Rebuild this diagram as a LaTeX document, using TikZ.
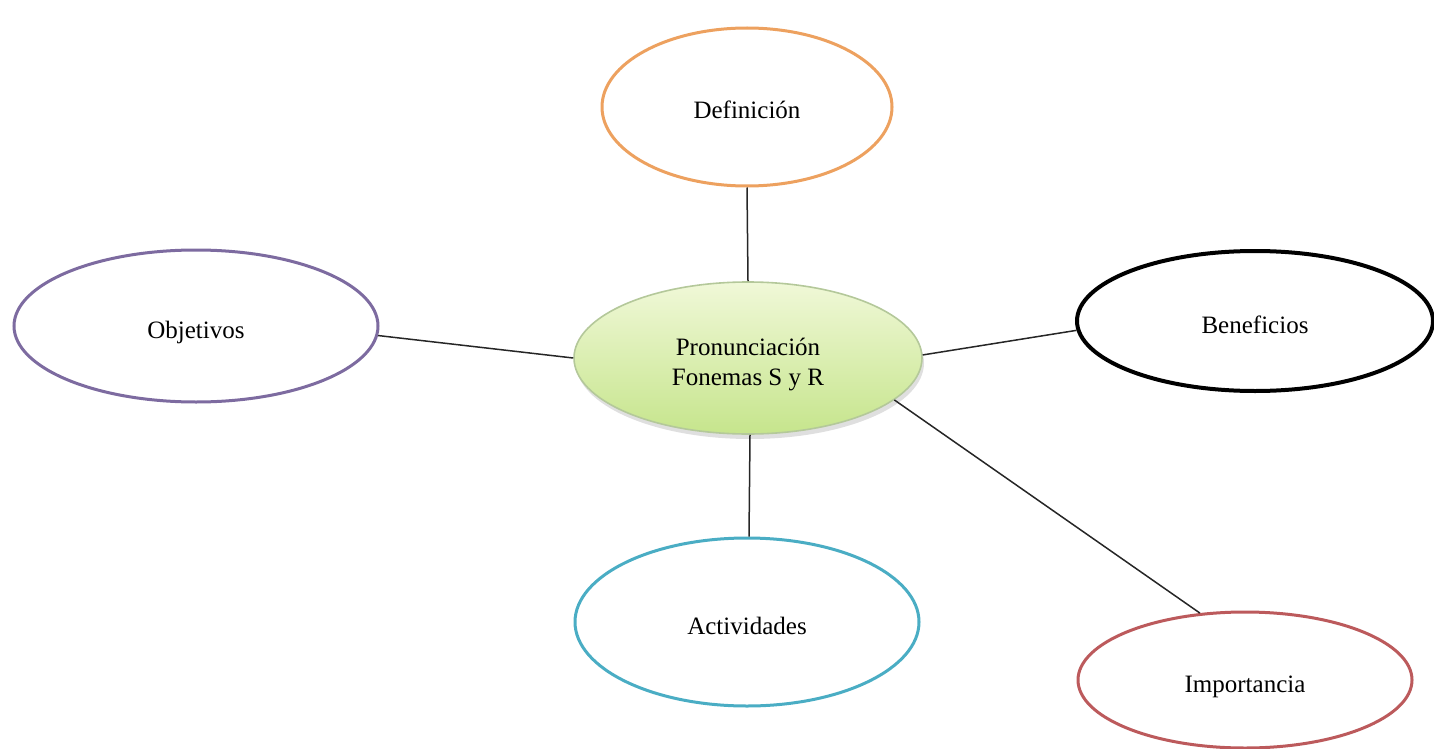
\documentclass[tikz,border=0pt]{standalone}
\usepackage{fontspec}
\setmainfont{Liberation Serif}
\usetikzlibrary{shapes.geometric,shadows}
\definecolor{orangeline}{HTML}{EDA15F}
\definecolor{purpleline}{HTML}{7D6BA0}
\definecolor{tealline}{HTML}{4AADC4}
\definecolor{redline}{HTML}{BC5A5C}
\definecolor{greentop}{HTML}{F0F8D8}
\definecolor{greenbot}{HTML}{C6E58C}
\definecolor{greenline}{HTML}{B4C89A}

\tikzset{
  topic/.style={ellipse, draw, line width=1.5pt, fill=white, align=center,
    font=\fontsize{12.5}{15}\selectfont, inner sep=0pt, text height=13pt, text depth=1pt},
  hub/.style={ellipse, draw=greenline, line width=0.8pt, top color=greentop,
    bottom color=greenbot, align=center, font=\fontsize{12.5}{15}\selectfont,
    inner sep=0pt, text height=28pt, text depth=1pt,
    drop shadow={opacity=0.25, shadow xshift=1pt, shadow yshift=-2.5pt}},
  link/.style={line width=0.75pt, draw=black!85}
}

\begin{document}
\begin{tikzpicture}[x=0.5pt, y=-0.5pt]
  \useasboundingbox (0,0) rectangle (1434,749);
  % central idea
  \node[hub, minimum width=174pt, minimum height=76pt] (cen) at (748,358)
    {Pronunciación\\Fonemas S y R};
  % surrounding topics
  \node[topic, draw=orangeline, minimum width=145pt, minimum height=79pt] (def) at (747,107) {Definición};
  \node[topic, draw=purpleline, minimum width=182pt, minimum height=76pt] (obj) at (196,326) {Objetivos};
  \node[topic, draw=black, line width=2pt, minimum width=178pt, minimum height=70pt] (ben) at (1255,321) {Beneficios};
  \node[topic, draw=tealline, minimum width=172pt, minimum height=84pt] (act) at (747,622) {Actividades};
  \node[topic, draw=redline, minimum width=167pt, minimum height=68pt] (imp) at (1245,680) {Importancia};
  % connectors
  \draw[link] (def.south) -- (cen.north);
  \draw[link] (obj.-3) -- (cen.180);
  \draw[link] (cen.1) -- (ben.183);
  \draw[link] ([xshift=1pt]cen.south) -- ([xshift=1pt]act.north);
  \draw[link] (cen.-16) -- (imp.124);
\end{tikzpicture}
\end{document}
